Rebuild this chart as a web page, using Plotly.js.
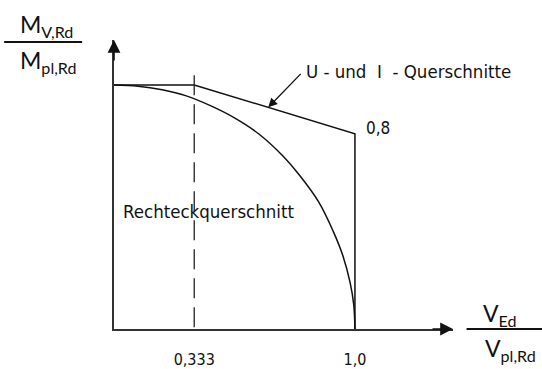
<!DOCTYPE html>
<html>
<head>
<meta charset="utf-8">
<script src="https://cdn.plot.ly/plotly-3.0.1.min.js"></script>
<style>
  html, body { margin: 0; padding: 0; background: #fff; }
  #chart { width: 542px; height: 369px; }
</style>
</head>
<body>
<div id="chart"></div>
<script>
// Rechteckquerschnitt curve
var rectX = [0, 0.1, 0.2, 0.3, 0.4, 0.5, 0.6, 0.7, 0.77, 0.85, 0.91, 0.95, 0.98, 0.995, 1.0];
var rectY = [1, 0.995, 0.98, 0.955, 0.915, 0.865, 0.8, 0.71, 0.63, 0.52, 0.40, 0.30, 0.19, 0.10, 0];

// U- und I-Querschnitte
var profX = [0, 0.333, 1.0, 1.0];
var profY = [1, 1, 0.8, 0];

// dashed line at V/Vpl = 0,333
var dashX = [0.333, 0.333];
var dashY = [1.04, -0.04];

var tickVals = [0.333, 1.0];
var tickText = ['0,333', '1,0'];

var techFam = 'DejaVu Sans Condensed, DejaVu Sans';
var calFont = {family: 'Lato, Open Sans', size: 23, color: '#111'};

var data = [
    {x: rectX, y: rectY, mode: 'lines', line: {color: '#111', width: 1.5, shape: 'spline'}, hoverinfo: 'none'},
    {x: profX, y: profY, mode: 'lines', line: {color: '#111', width: 1.5}, hoverinfo: 'none'},
    {x: dashX, y: dashY, mode: 'lines', line: {color: '#222', width: 1.3, dash: '20px,9px'}, hoverinfo: 'none', cliponaxis: false}
];

var layout = {
    width: 542,
    height: 369,
    margin: {l: 114, r: 89, t: 40, b: 40},
    paper_bgcolor: '#fff',
    plot_bgcolor: '#fff',
    showlegend: false,
    xaxis: {
        range: [0, 1.407],
        showgrid: false,
        zeroline: false,
        showline: true,
        linecolor: '#333',
        linewidth: 1.6,
        tickvals: tickVals,
        ticktext: tickText,
        ticks: 'outside',
        ticklen: 15,
        tickcolor: 'rgba(0,0,0,0)',
        tickfont: {family: techFam, size: 16, color: '#111'}
    },
    yaxis: {
        range: [0, 1.184],
        showgrid: false,
        zeroline: false,
        showline: true,
        linecolor: '#333',
        linewidth: 1.6,
        showticklabels: false,
        ticks: ''
    },
    shapes: [
        {type: 'line', xref: 'paper', yref: 'paper', x0: -0.324, x1: -0.094, y0: 0.993, y1: 0.993, line: {color: '#111', width: 2}},
        {type: 'line', xref: 'paper', yref: 'paper', x0: 1.04, x1: 1.27, y0: 0, y1: 0, line: {color: '#111', width: 2}}
    ],
    annotations: [
        // axis arrowheads
        {xref: 'paper', yref: 'paper', x: 0, y: 1, ax: 0, ay: 22, text: '', showarrow: true, arrowhead: 2, arrowsize: 1.6, arrowwidth: 1.6, arrowcolor: '#111'},
        {xref: 'paper', yref: 'paper', x: 1, y: 0, ax: -22, ay: 0, text: '', showarrow: true, arrowhead: 2, arrowsize: 1.6, arrowwidth: 1.6, arrowcolor: '#111'},
        // pointer to the U/I line
        {x: 0.64, y: 0.908, ax: 34, ay: -35, text: '', showarrow: true, arrowhead: 2, arrowsize: 1.4, arrowwidth: 1.3, arrowcolor: '#111'},
        {xref: 'paper', yref: 'paper', x: 0.56, y: 0.89, xanchor: 'left', yanchor: 'middle', text: 'U - und  I  - Querschnitte', showarrow: false, font: {family: techFam, size: 18.5, color: '#111'}},
        {x: 1.0, y: 0.8, xanchor: 'left', yanchor: 'middle', xshift: 9, yshift: 6, text: '0,8', showarrow: false, font: {family: techFam, size: 17, color: '#111'}},
        {x: 0.03, y: 0.48, xanchor: 'left', yanchor: 'middle', text: 'Rechteckquerschnitt', showarrow: false, font: {family: techFam, size: 18.5, color: '#111'}},
        // axis titles as fractions
        {xref: 'paper', yref: 'paper', x: -0.198, y: 1.05, xanchor: 'center', yanchor: 'middle', text: 'M<sub>V,Rd</sub>', showarrow: false, font: calFont},
        {xref: 'paper', yref: 'paper', x: -0.192, y: 0.925, xanchor: 'center', yanchor: 'middle', text: 'M<sub>pl,Rd</sub>', showarrow: false, font: calFont},
        {xref: 'paper', yref: 'paper', x: 1.14, y: 0.05, xanchor: 'center', yanchor: 'middle', text: 'V<sub>Ed</sub>', showarrow: false, font: calFont},
        {xref: 'paper', yref: 'paper', x: 1.17, y: -0.07, xanchor: 'center', yanchor: 'middle', text: 'V<sub>pl,Rd</sub>', showarrow: false, font: calFont}
    ]
};

Plotly.newPlot('chart', data, layout, {staticPlot: true});
</script>
</body>
</html>
